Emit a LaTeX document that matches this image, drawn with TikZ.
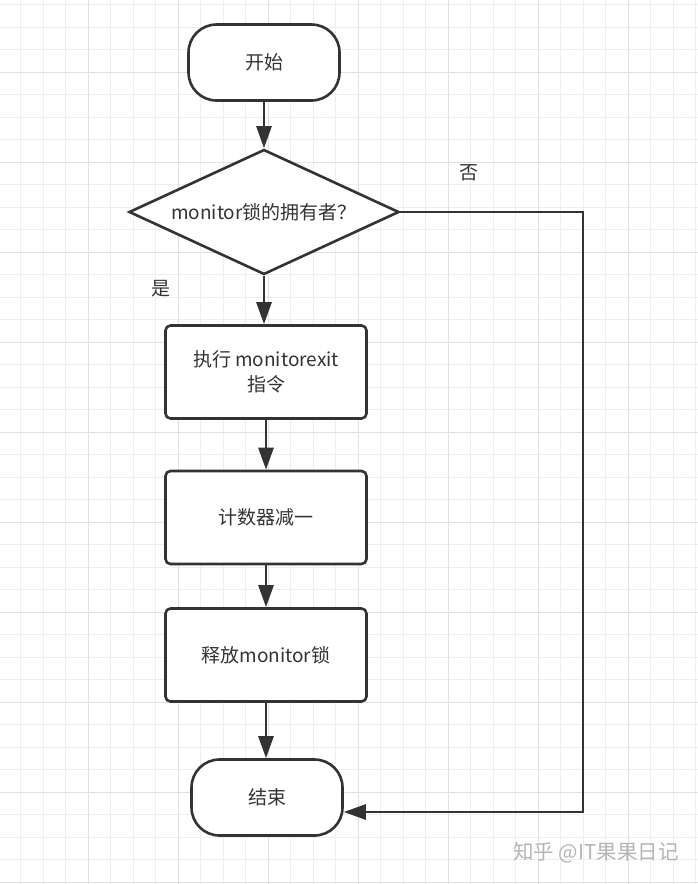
\documentclass[tikz,border=0pt]{standalone}
\usepackage{fontspec}
\setmainfont{Noto Sans CJK SC}
\usetikzlibrary{arrows.meta,shapes.geometric,calc}
\definecolor{ink}{HTML}{333333}
\definecolor{gridminor}{HTML}{EEEEEE}
\definecolor{gridmajor}{HTML}{E0E0E0}
\definecolor{wm}{HTML}{B5B5B5}
\begin{document}
\begin{tikzpicture}[x=1pt,y=-1pt,
  every node/.style={font=\fontsize{19}{25}\selectfont, text=ink},
  terminal/.style={draw=ink, line width=2.6pt, fill=white, rounded corners=28pt,
    minimum width=151pt, minimum height=76pt, inner sep=0pt},
  procbox/.style={draw=ink, line width=2.6pt, fill=white, rounded corners=5pt,
    minimum width=201pt, minimum height=93pt, inner sep=0pt, align=center},
  decision/.style={draw=ink, line width=2.6pt, fill=white, shape=diamond, shape aspect=2.16,
    minimum width=270pt, minimum height=125pt, inner sep=0pt},
  arr/.style={draw=ink, line width=2.6pt, -{Triangle[length=22pt,width=15pt]}},
  lbl/.style={inner sep=0pt}
]
\useasboundingbox (0,0) rectangle (698,884);
\fill[white] (0,0) rectangle (698,884);
% grid
\foreach \gx in {20.5,43,...,698} {\draw[gridminor, line width=1pt] (\gx,0) -- (\gx,884);}
\foreach \gy in {4.5,27,...,884} {\draw[gridminor, line width=1pt] (0,\gy) -- (698,\gy);}
\foreach \gx in {88,178,...,698} {\draw[gridmajor, line width=1pt] (\gx,0) -- (\gx,884);}
\foreach \gy in {72,162,...,884} {\draw[gridmajor, line width=1pt] (0,\gy) -- (698,\gy);}

% nodes
\node[terminal] (start) at (264,62.5) {开始};
\node[decision] (dec) at (264,212) {monitor锁的拥有者？};
\node[procbox] (p1) at (266,372) {执行 monitorexit\\指令};
\node[procbox] (p2) at (266,517.5) {计数器减一};
\node[procbox] (p3) at (266,655) {释放monitor锁};
\node[terminal] (end) at (267,797.5) {结束};

\node[lbl] (yes) at (161,289) {是};
\node[lbl] (no) at (468.5,173) {否};

\coordinate (c2) at (583,812);

% connectors
\draw[arr] (start.south) -- (dec.north);
\draw[arr] (dec.south) -- (dec.south |- p1.north);
\draw[arr] (p1.south) -- (p2.north);
\draw[arr] (p2.south) -- (p3.north);
\draw[arr] (p3.south) -- (p3.south |- end.north);
\draw[arr, line join=miter] (dec.east) -| (c2) -- (end.east |- c2);

% watermark
\node[lbl, text=wm, font=\fontsize{20.5}{22}\selectfont] (wmark) at (596,853) {知乎 @IT果果日记};
\end{tikzpicture}
\end{document}
